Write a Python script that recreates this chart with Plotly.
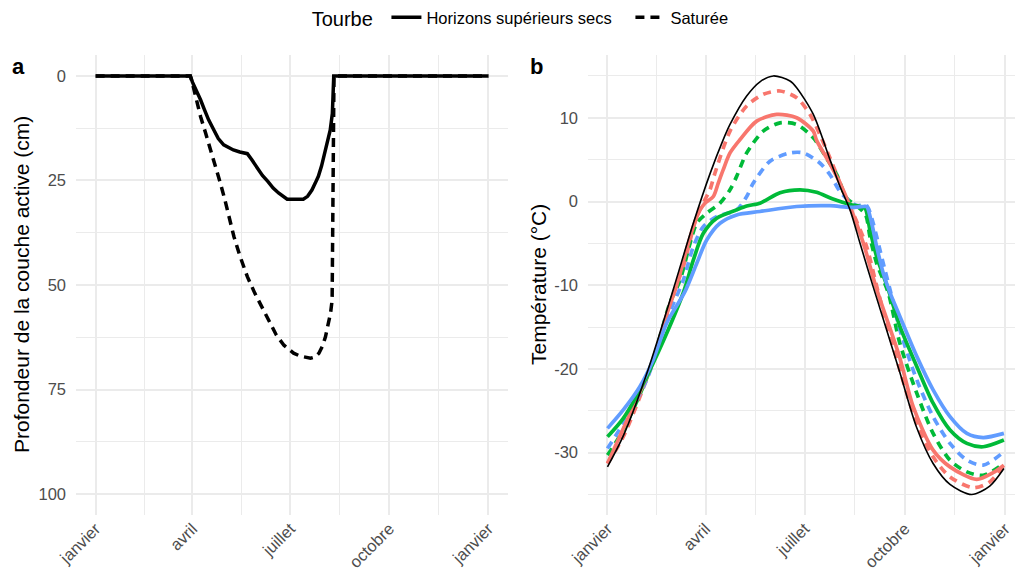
import pandas as pd
import plotly.graph_objects as go

BASE = pd.Timestamp("2021-01-01")

# ---------------- Panel a : active layer depth (cm) ----------------
a_sec_day = [0, 88, 90, 94, 97.5, 101, 105, 110, 114, 119, 124, 128, 134, 141, 145, 150, 155,
             160, 165, 170, 175, 178, 185, 193, 197, 201, 204, 207, 210, 212, 214, 216, 218,
             219, 220, 220.6, 221.3, 365]
a_sec_depth = [0, 0, 1.5, 3.5, 5.7, 8, 10.5, 13, 15, 16.5, 17.2, 17.7, 18.2, 18.6, 20, 22, 23.8,
               25.2, 26.8, 28, 29, 29.5, 29.5, 29.5, 28.8, 27.3, 25.7, 24, 21.5, 19.3, 17.8, 15.3, 13,
               11, 9, 5, 0, 0]

a_sat_day = [0, 88, 90, 94, 97.5, 102, 107, 112, 116, 120, 124, 128.5, 134, 141, 148, 156,
             162.5, 168, 175, 180, 184, 190, 199.7, 204, 207.5, 211, 213.6, 216, 218.3, 219.8,
             220.2, 220.5, 221.5, 365]
a_sat_depth = [0, 0, 1.8, 6, 9.7, 13.5, 17.7, 22, 25.7, 29.5, 34, 38.4, 43, 48, 52, 56,
               59.2, 62, 64.4, 65.5, 66.3, 67, 67.5, 67.2, 66.3, 64.5, 62.4, 59.5, 56.8, 53.6,
               40, 20, 0, 0]

# ---------------- Panel b : temperature (°C) ----------------
b_air_day = [0, 14.5, 37.5, 60.4, 78.8, 94.1, 106, 112.5, 127.8, 140, 152.3, 167.6, 173.7, 189,
             204.3, 213.5, 222.7, 231.9, 244, 268.4, 283.9, 299, 314.5, 334.4, 351, 364]
b_air_temp = [-31.7, -28.0, -20.0, -10.5, -2.6, 3.3, 7.3, 9.2, 12.6, 14.3, 15.0, 14.4, 13.6, 10.4,
              5.0, 1.8, -1.0, -5.0, -10.2, -20.4, -27.0, -31.3, -33.8, -35.0, -34.0, -31.9]

b_red_sec_day = [0, 23.7, 40.6, 54.4, 63.5, 78.8, 85, 89.5, 97.2, 101.7, 106.3, 112.5, 121.7, 137,
                 155.4, 173.7, 189, 192, 204.3, 213.5, 222.7, 235, 247.2, 268, 280.7, 299, 314.5,
                 339, 354, 364]
b_red_sec_temp = [-31.3, -24.5, -19.5, -13.5, -10.0, -3.0, -1.0, -0.2, 0.6, 2.2, 3.8, 5.8, 7.4, 9.6,
                  10.4, 10.0, 8.4, 7.3, 4.5, 2.2, -0.6, -5.0, -10.5, -18.5, -24.5, -29.7, -31.7,
                  -33.2, -32.4, -31.5]

b_red_sat_day = [0, 14.5, 39, 60, 69.6, 82, 91, 94.1, 98.7, 112.5, 127.8, 143, 158.4, 173.7, 186,
                 195, 204.3, 210.5, 216.5, 228.8, 238, 248.7, 268.4, 284, 299, 314.5, 336, 351, 364]
b_red_sat_temp = [-31.3, -28.1, -20.1, -11.2, -7.8, -1.8, 0.6, 1.4, 3.4, 8.4, 11.4, 12.8, 13.2, 12.4,
                  10.4, 8.0, 5.2, 3.2, 1.2, -2.4, -5.4, -10.9, -20.1, -26.5, -30.5, -32.9, -34.2,
                  -33.5, -31.5]

b_green_sec_day = [0, 14.5, 29.8, 42, 69.6, 78.8, 88, 100.3, 118.6, 127.8, 140, 146, 158.4, 176.8,
                   192, 207, 222.7, 231.8, 236.5, 241, 247.2, 257.8, 268.4, 284, 299, 314.5, 330,
                   345, 364]
b_green_sec_temp = [-28.1, -25.9, -22.5, -19.3, -10.9, -7.0, -3.8, -2.0, -1.0, -0.55, -0.2, 0.2, 1.05,
                    1.4, 1.1, 0.3, -0.35, -0.6, -0.8, -3.4, -6.6, -10.5, -14.9, -19.7, -24.1, -27.3,
                    -28.9, -29.3, -28.5]

b_green_sat_day = [0, 14.5, 39, 57.4, 66.6, 75.8, 81.9, 91.1, 103.3, 112.5, 118.6, 127.8, 143, 158.4,
                   173.7, 189, 201, 210.5, 219.6, 228.8, 237, 241, 247.2, 257.8, 268.4, 284, 299,
                   314.5, 330, 345, 364]
b_green_sat_temp = [-30.3, -27.3, -20.1, -12.1, -9.4, -5.0, -2.6, -1.4, -0.2, 1.4, 3.0, 5.8, 8.4, 9.4,
                    9.2, 7.6, 5.2, 3.2, 0.4, -0.5, -1.6, -4.2, -7.4, -10.9, -16.9, -22.9, -27.7,
                    -30.9, -32.3, -32.7, -31.3]

b_blue_sec_day = [0, 14.5, 29.8, 42, 54.4, 71, 81.9, 91.1, 103.3, 118.6, 140, 173.7, 204.3, 222.7,
                  235, 238, 242.6, 247.2, 253.3, 259.4, 268.4, 284, 299, 314.5, 330, 345, 364]
b_blue_sec_temp = [-27.1, -24.9, -22.1, -18.9, -14.5, -10.8, -7.4, -4.6, -2.6, -1.6, -1.2, -0.6, -0.5,
                   -0.7, -0.6, -0.6, -2.6, -5.4, -8.6, -10.9, -13.7, -18.5, -22.5, -25.7, -27.7,
                   -28.2, -27.7]

b_blue_sat_day = [0, 14.5, 36, 54.4, 69.6, 78.8, 88, 100.3, 118.6, 127.8, 133.9, 149.2, 167.6, 179.8,
                  195, 204.3, 213.5, 222.7, 230, 236.4, 239.5, 244, 250.2, 254.8, 259.4, 268.4, 284,
                  299, 314.5, 330, 345, 364]
b_blue_sat_temp = [-29.5, -26.5, -21.3, -14.1, -9.4, -5.4, -3.0, -1.8, -1.0, 0.6, 2.2, 4.8, 5.8, 5.8,
                   4.6, 3.2, 1.2, 0.0, -0.5, -0.3, -0.8, -2.6, -5.8, -8.2, -10.5, -15.3, -21.3,
                   -25.7, -28.9, -30.9, -31.5, -29.9]

month_ticks = ["2021-01-01", "2021-04-01", "2021-07-01", "2021-10-01", "2022-01-01"]
month_labels = ["janvier", "avril", "juillet", "octobre", "janvier"]

a_ticks = [0, 25, 50, 75, 100]
a_minor = [12.5, 37.5, 62.5, 87.5]
b_ticks = [-30, -20, -10, 0, 10]
b_tick_labels = ["-30", "-20", "-10", "0", "10"]
b_minor = [-35, -25, -15, -5, 5, 15]

RED, GREEN, BLUE = "#F8766D", "#00BA38", "#619CFF"
FONT = "Liberation Sans, Arial, sans-serif"
GRID = "#EBEBEB"
TICKC = "#4D4D4D"
NB = "\u00a0"


def to_dates(days):
    return BASE + pd.to_timedelta(pd.Series(days, dtype=float), unit="D")


major_dates = pd.to_datetime(month_ticks)
minor_dates = [major_dates[i] + (major_dates[i + 1] - major_dates[i]) / 2 for i in range(len(major_dates) - 1)]

fig = go.Figure()

DASH_A = "9px,6px"
fig.add_trace(go.Scatter(x=to_dates(a_sec_day), y=a_sec_depth, mode="lines",
                         line=dict(color="black", width=3.5), name="Horizons supérieurs secs" + NB * 3,
                         xaxis="x", yaxis="y"))
fig.add_trace(go.Scatter(x=to_dates(a_sat_day), y=a_sat_depth, mode="lines",
                         line=dict(color="black", width=3.5, dash=DASH_A), name="Saturée",
                         xaxis="x", yaxis="y"))

DASH_B = "8px,6px"
series_b = [
    (b_red_sat_day, b_red_sat_temp, RED, DASH_B),
    (b_green_sat_day, b_green_sat_temp, GREEN, DASH_B),
    (b_blue_sat_day, b_blue_sat_temp, BLUE, DASH_B),
    (b_red_sec_day, b_red_sec_temp, RED, "solid"),
    (b_green_sec_day, b_green_sec_temp, GREEN, "solid"),
    (b_blue_sec_day, b_blue_sec_temp, BLUE, "solid"),
]
for d, t, c, dash in series_b:
    fig.add_trace(go.Scatter(x=to_dates(d), y=t, mode="lines",
                             line=dict(color=c, width=3.7, dash=dash, shape="spline", smoothing=0.8),
                             showlegend=False, xaxis="x2", yaxis="y2", hoverinfo="skip"))
fig.add_trace(go.Scatter(x=to_dates(b_air_day), y=b_air_temp, mode="lines",
                         line=dict(color="black", width=1.6, shape="spline", smoothing=0.8),
                         showlegend=False, xaxis="x2", yaxis="y2"))

W, H = 1015, 573
ytop, ybot = 55, 515
ydom = [(H - ybot) / H, (H - ytop) / H]

xaxis_common = dict(
    type="date", tickvals=month_ticks, ticktext=month_labels, tickangle=-45,
    tickfont=dict(size=16.5, color=TICKC, family=FONT),
    showgrid=True, gridcolor=GRID, gridwidth=1.6,
    minor=dict(tickvals=minor_dates, showgrid=True, gridcolor=GRID, gridwidth=0.9, ticks=""),
    zeroline=False, showline=False, ticks="", automargin=False,
)
yaxis_common = dict(
    tickfont=dict(size=16.5, color=TICKC, family=FONT),
    showgrid=True, gridcolor=GRID, gridwidth=1.6,
    zeroline=False, showline=False, ticks="", automargin=False, ticklabelstandoff=9,
)

fig.update_layout(
    width=W, height=H, margin=dict(l=0, r=0, t=0, b=0),
    template="none", paper_bgcolor="white", plot_bgcolor="white",
    font=dict(family=FONT, color="black"),
    xaxis=dict(domain=[76 / W, 508 / W], anchor="y",
               range=[BASE - pd.Timedelta(days=18.25), BASE + pd.Timedelta(days=365 + 18.25)],
               **xaxis_common),
    yaxis=dict(domain=ydom, anchor="x", range=[105, -5], tickvals=a_ticks,
               minor=dict(tickvals=a_minor, showgrid=True, gridcolor=GRID, gridwidth=0.9, ticks=""),
               **yaxis_common),
    xaxis2=dict(domain=[588 / W, 1.0], anchor="y2",
                range=[BASE - pd.Timedelta(days=17.9), BASE + pd.Timedelta(days=374.2)],
                **xaxis_common),
    yaxis2=dict(domain=ydom, anchor="x2", range=[-37.45, 17.5], tickvals=b_ticks,
                ticktext=b_tick_labels,
                minor=dict(tickvals=b_minor, showgrid=True, gridcolor=GRID, gridwidth=0.9, ticks=""),
                **yaxis_common),
    legend=dict(orientation="h", x=0.514, xanchor="center", y=1 - 18 / H, yanchor="middle",
                title=dict(text="Tourbe" + NB, side="left", font=dict(size=20, family=FONT)),
                font=dict(size=16.5, family=FONT), bgcolor="rgba(0,0,0,0)", itemwidth=30),
    showlegend=True,
    annotations=[
        dict(text="<b>a</b>", x=18 / W, y=1 - 66 / H, xref="paper", yref="paper",
             xanchor="center", yanchor="middle",
             showarrow=False, font=dict(size=22, family=FONT)),
        dict(text="<b>b</b>", x=536 / W, y=1 - 66 / H, xref="paper", yref="paper",
             xanchor="center", yanchor="middle",
             showarrow=False, font=dict(size=22, family=FONT)),
        dict(text="Profondeur de la couche active (cm)", textangle=-90, x=21 / W, y=1 - 285 / H,
             xref="paper", yref="paper", xanchor="center", yanchor="middle",
             showarrow=False, font=dict(size=21, family=FONT)),
        dict(text="Température (°C)", textangle=-90, x=538 / W, y=1 - 285 / H,
             xref="paper", yref="paper", xanchor="center", yanchor="middle",
             showarrow=False, font=dict(size=21, family=FONT)),
    ],
)

fig.write_html("out.html")
